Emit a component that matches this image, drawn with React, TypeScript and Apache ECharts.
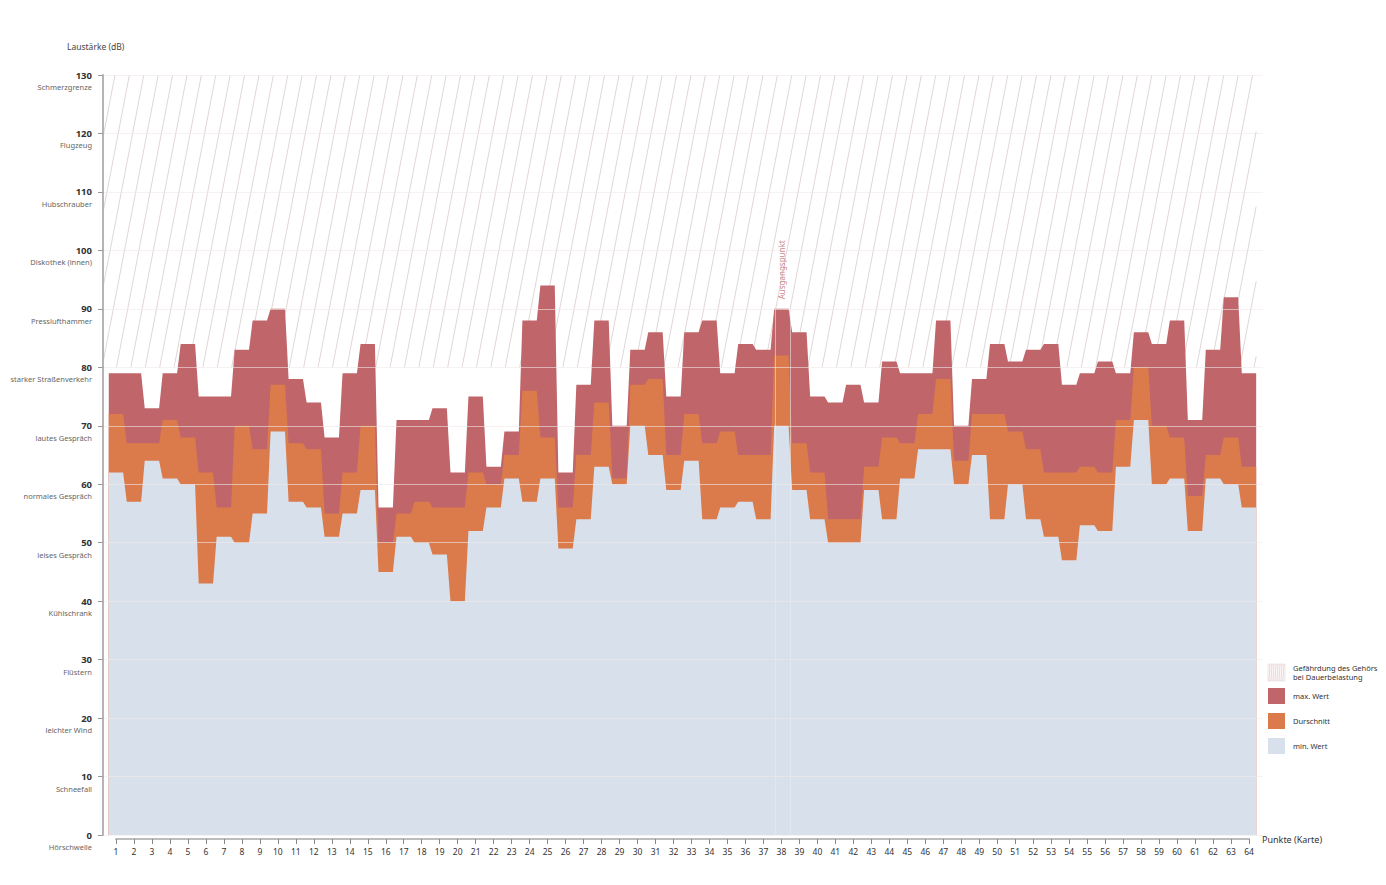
import React, { useEffect, useRef } from "react";
import * as echarts from "echarts";

// ---------- data ----------
const points = [
  1, 2, 3, 4, 5, 6, 7, 8, 9, 10, 11, 12, 13, 14, 15, 16,
  17, 18, 19, 20, 21, 22, 23, 24, 25, 26, 27, 28, 29, 30, 31, 32,
  33, 34, 35, 36, 37, 38, 39, 40, 41, 42, 43, 44, 45, 46, 47, 48,
  49, 50, 51, 52, 53, 54, 55, 56, 57, 58, 59, 60, 61, 62, 63, 64,
];

const maxValues = [
  79, 79, 73, 79, 84, 75, 75, 83, 88, 90, 78, 74, 68, 79, 84, 56,
  71, 71, 73, 62, 75, 63, 69, 88, 94, 62, 77, 88, 70, 83, 86, 75,
  86, 88, 79, 84, 83, 90, 86, 75, 74, 77, 74, 81, 79, 79, 88, 70,
  78, 84, 81, 83, 84, 77, 79, 81, 79, 86, 84, 88, 71, 83, 92, 79,
];

const avgValues = [
  72, 67, 67, 71, 68, 62, 56, 70, 66, 77, 67, 66, 55, 62, 70, 50,
  55, 57, 56, 56, 62, 60, 65, 76, 68, 56, 65, 74, 61, 77, 78, 65,
  72, 67, 69, 65, 65, 82, 67, 62, 54, 54, 63, 68, 67, 72, 78, 64,
  72, 72, 69, 66, 62, 62, 63, 62, 71, 80, 70, 68, 58, 65, 68, 63,
];

const minValues = [
  62, 57, 64, 61, 60, 43, 51, 50, 55, 69, 57, 56, 51, 55, 59, 45,
  51, 50, 48, 40, 52, 56, 61, 57, 61, 49, 54, 63, 60, 70, 65, 59,
  64, 54, 56, 57, 54, 70, 59, 54, 50, 50, 59, 54, 61, 66, 66, 60,
  65, 54, 60, 54, 51, 47, 53, 52, 63, 71, 60, 61, 52, 61, 60, 56,
];

const yTickValues = [0, 10, 20, 30, 40, 50, 60, 70, 80, 90, 100, 110, 120, 130];
const yTickNames = [
  "Hörschwelle",
  "Schneefall",
  "leichter Wind",
  "Flüstern",
  "Kühlschrank",
  "leises Gespräch",
  "normales Gespräch",
  "lautes Gespräch",
  "starker Straßenverkehr",
  "Presslufthammer",
  "Diskothek (innen)",
  "Hubschrauber",
  "Flugzeug",
  "Schmerzgrenze",
];

const dangerRange = [80, 130];
const markerPoint = 38;
const markerLabel = "Ausgangspunkt";

const seriesNames = ["max. Wert", "Durschnitt", "min. Wert"];
const hatchLegendLines = ["Gefährdung des Gehörs", "bei Dauerbelastung"];
const yAxisTitle = "Laustärke (dB)";
const xAxisTitle = "Punkte (Karte)";

// ---------- styles ----------
const RED = "#c0656a";
const ORANGE = "#db7b4b";
const BLUE = "#d8e0eb";
const HATCH = "#d8cccc";
const FONT = "'Noto Sans', 'Open Sans', sans-serif";
const HALF = 0.4; // plateau half width (in point units)
const PAD_L = 0.72;
const PAD_R = 0.78;

function steps(values: number[]) {
  const out: number[][] = [];
  values.forEach((v, i) => {
    out.push([points[i] - HALF, v]);
    out.push([points[i] + HALF, v]);
  });
  return out;
}

export default function App() {
  const ref = useRef<HTMLDivElement>(null);

  useEffect(() => {
    if (!ref.current) return;
    const chart = echarts.init(ref.current, undefined, { renderer: "svg" });
    const first = points[0];
    const last = points[points.length - 1];
    const mIdx = points.indexOf(markerPoint);

    const legendItems: any[] = [];
    const lx = 1268;
    const hatchChildren: any[] = [
      { type: "rect", shape: { x: 0, y: 0, width: 17, height: 17 }, style: { fill: "#fcf8f8", stroke: "#eadada", lineWidth: 0.6 } },
    ];
    for (let i = 1; i < 17; i += 2) {
      hatchChildren.push({
        type: "line",
        shape: { x1: i, y1: 17, x2: Math.min(i + 1, 17), y2: 0 },
        style: { stroke: "#e2c4c4", lineWidth: 0.6 },
      });
    }
    legendItems.push({ type: "group", x: lx, y: 664, children: hatchChildren });
    legendItems.push({
      type: "text",
      x: 1293,
      y: 663,
      style: { text: hatchLegendLines.join("\n"), fill: "#333", fontSize: 7.5, lineHeight: 9.5, fontFamily: FONT },
    });
    const legendColors = [RED, ORANGE, BLUE];
    const legendYs = [688, 713, 738];
    seriesNames.forEach((n, i) => {
      legendItems.push({
        type: "rect",
        shape: { x: lx, y: legendYs[i], width: 17, height: 16 },
        style: { fill: legendColors[i] },
      });
      legendItems.push({
        type: "text",
        x: 1293,
        y: legendYs[i] + 8,
        style: { text: n, fill: "#333", fontSize: 7.5, fontFamily: FONT, verticalAlign: "middle" },
      });
    });

    const option: any = {
      animation: false,
      backgroundColor: "#fff",
      textStyle: { fontFamily: FONT },
      graphic: [
        {
          type: "text",
          x: 67,
          y: 46,
          style: { text: yAxisTitle, fill: "#444", fontSize: 8.5, fontFamily: FONT, verticalAlign: "middle" },
        },
        ...legendItems,
      ],
      grid: [
        { left: 103, right: 123, top: 75, bottom: 50 },
        { left: 116, right: 137, top: 837, bottom: 46 },
      ],
      xAxis: [
        { type: "value", gridIndex: 0, min: first - PAD_L, max: last + PAD_R, show: false },
        {
          type: "value",
          gridIndex: 1,
          min: first,
          max: last,
          interval: 1,
          position: "bottom",
          axisLine: { show: true, lineStyle: { color: "#bdbdbd", width: 2 } },
          axisTick: { show: true, length: 5, lineStyle: { color: "#888", width: 1 } },
          axisLabel: { color: "#333", fontSize: 8.5, margin: 8, fontFamily: FONT },
          splitLine: { show: false },
          name: xAxisTitle,
          nameLocation: "end",
          nameGap: 13,
          nameTextStyle: { color: "#333", fontSize: 9, fontFamily: FONT, verticalAlign: "middle" },
        },
      ],
      yAxis: [
        {
          type: "value",
          gridIndex: 0,
          min: yTickValues[0],
          max: yTickValues[yTickValues.length - 1],
          interval: 10,
          z: 10,
          axisLine: { show: true, lineStyle: { color: "#b5b5b5", width: 2 } },
          axisTick: { show: true, length: 5, lineStyle: { color: "#999" } },
          axisLabel: {
            margin: 11,
            formatter: (v: number) => {
              const i = yTickValues.indexOf(v);
              return `{e| }\n{a|${v}}\n{b|${yTickNames[i] ?? ""}}`;
            },
            rich: {
              e: { fontSize: 7.5, lineHeight: 12 },
              a: { fontSize: 9.5, fontWeight: "bold", color: "#333", lineHeight: 12, align: "right", fontFamily: FONT },
              b: { fontSize: 7.5, color: "#666", lineHeight: 12, align: "right", fontFamily: FONT },
            },
          },
          splitLine: { show: true, lineStyle: { color: "rgba(240,234,234,0.6)", width: 1 } },
        },
        { type: "value", gridIndex: 1, show: false, min: 0, max: 1 },
      ],
      series: [
        {
          type: "custom",
          name: "hatch",
          xAxisIndex: 0,
          yAxisIndex: 0,
          silent: true,
          z: 1,
          data: [0],
          renderItem: (params: any, api: any) => {
            const cs = params.coordSys;
            const xl = cs.x;
            const xr = api.coord([last + HALF, 0])[0];
            const yTop = api.coord([first, dangerRange[1]])[1];
            const yBot = api.coord([first, dangerRange[0]])[1];
            const H = yBot - yTop;
            const slope = 0.192;
            const dx = H * slope;
            const gap = 14.4;
            const children: any[] = [];
            for (let t = xl + 12 - gap * 10; t < xr + dx + gap; t += gap) {
              const s0 = Math.max(0, (t - xr) / dx);
              const s1 = Math.min(1, (t - xl) / dx);
              if (s0 >= s1) continue;
              children.push({
                type: "line",
                shape: { x1: t - s0 * dx, y1: yTop + s0 * H, x2: t - s1 * dx, y2: yTop + s1 * H },
                style: { stroke: HATCH, lineWidth: 0.8 },
              });
            }
            return { type: "group", children };
          },
        },
        {
          type: "line",
          name: seriesNames[0],
          data: steps(maxValues),
          showSymbol: false,
          z: 2,
          lineStyle: { width: 0 },
          itemStyle: { color: RED },
          areaStyle: { color: RED, opacity: 1 },
          silent: true,
        },
        {
          type: "line",
          name: seriesNames[1],
          data: steps(avgValues),
          showSymbol: false,
          z: 3,
          lineStyle: { width: 0 },
          itemStyle: { color: ORANGE },
          areaStyle: { color: ORANGE, opacity: 1 },
          silent: true,
        },
        {
          type: "line",
          name: seriesNames[2],
          data: steps(minValues),
          showSymbol: false,
          z: 4,
          lineStyle: { width: 0 },
          itemStyle: { color: BLUE },
          areaStyle: { color: BLUE, opacity: 1 },
          silent: true,
          markLine: {
            silent: true,
            symbol: ["none", "none"],
            label: { show: false },
            emphasis: { disabled: true },
            lineStyle: { color: "#e9edf3", opacity: 0.55, width: 1, type: "solid" },
            data: [
              [{ coord: [markerPoint - 0.35, 0] }, { coord: [markerPoint - 0.35, maxValues[mIdx]] }],
              [{ coord: [markerPoint + 0.47, 0] }, { coord: [markerPoint + 0.47, maxValues[mIdx]] }],
            ],
          },
        },
        {
          type: "scatter",
          name: "marker",
          data: [[markerPoint, maxValues[mIdx]]],
          symbolSize: 1,
          itemStyle: { color: "rgba(0,0,0,0)" },
          z: 20,
          silent: true,
          label: {
            show: true,
            formatter: markerLabel,
            position: "top",
            distance: 9,
            rotate: 90,
            align: "left",
            verticalAlign: "middle",
            color: "#b9666b",
            fontSize: 8,
            fontFamily: FONT,
          },
        },
      ],
    };
    chart.setOption(option);
    return () => chart.dispose();
  }, []);

  return (
    <div
      ref={ref}
      style={{ position: "fixed", left: 0, top: 0, width: 1386, height: 885, background: "#fff" }}
    />
  );
}
